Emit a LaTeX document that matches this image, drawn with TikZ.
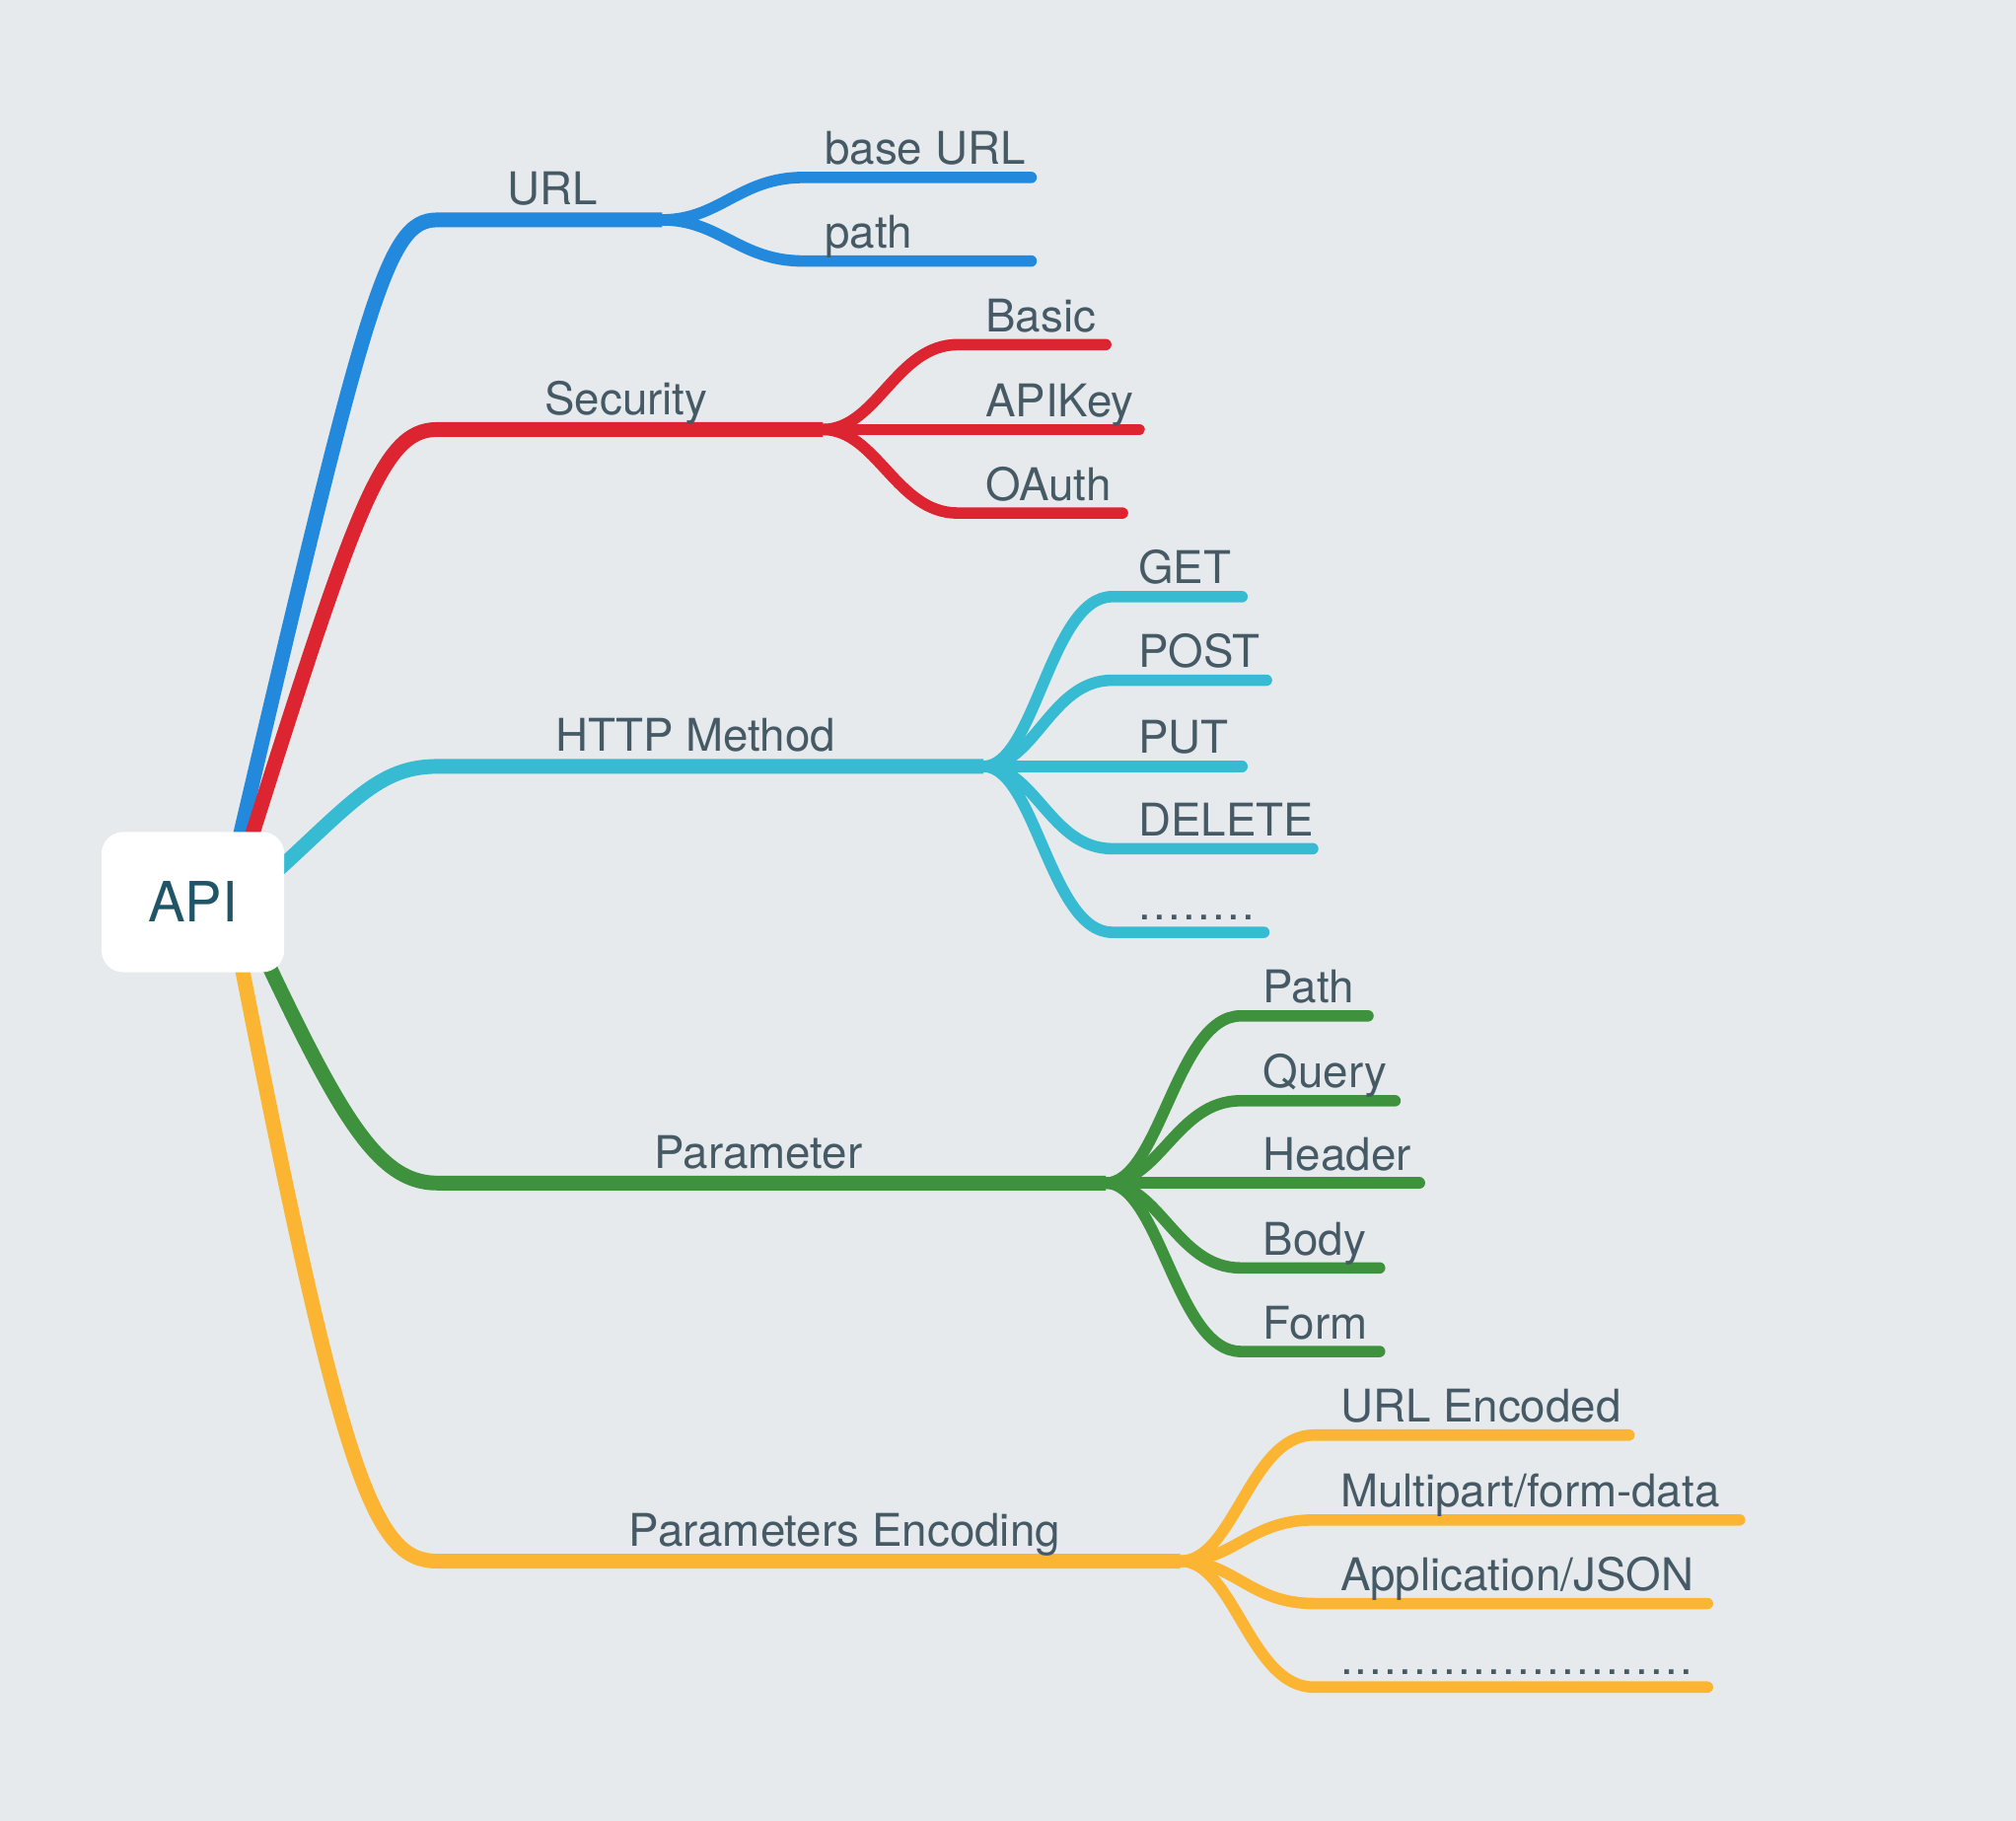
\documentclass[tikz,border=0pt]{standalone}
\usepackage{fontspec}
\setmainfont{TeX Gyre Heros}

\definecolor{paper}{HTML}{E6EAED}
\definecolor{urlblue}{HTML}{2389DC}
\definecolor{secred}{HTML}{DC2530}
\definecolor{httpcyan}{HTML}{36BBD3}
\definecolor{pargreen}{HTML}{3E923D}
\definecolor{encyellow}{HTML}{FBB532}
\definecolor{labelgrey}{HTML}{465A66}
\definecolor{apiteal}{HTML}{205568}

\newcommand\dotrow[1]{\foreach \k in {1,...,#1}{.\kern0.65pt}}

\tikzset{
  trunk/.style = {line width=4.25pt, line cap=butt},
  twig/.style  = {line width=3.3pt, line cap=round},
  toplbl/.style = {anchor=base, inner sep=0pt, text=labelgrey,
                   font=\fontsize{13}{15}\selectfont},
  leaflbl/.style = {anchor=base west, inner sep=0pt, text=labelgrey,
                    font=\fontsize{13}{15}\selectfont},
  rootbox/.style = {fill=white, rounded corners=0.22cm, inner sep=0pt,
                    minimum width=1.851cm, minimum height=1.421cm,
                    text=apiteal, font=\fontsize{16}{18}\selectfont}
}

\begin{document}
\begin{tikzpicture}[x=0.013036cm, y=-0.013036cm]
	\useasboundingbox (0,0) rectangle (1568,1416);
	\fill[paper] (0,0) rectangle (1568,1416);

	% Trunks (start inside the API box)
	\coordinate (url-s) at (175,700);
	\coordinate (sec-s) at (180,700);
	\coordinate (http-s) at (190,700);
	\coordinate (par-s) at (185,700);
	\coordinate (enc-s) at (178,700);

	\coordinate (url-c) at (340,171);   \coordinate (url-f) at (515,171);
	\coordinate (sec-c) at (340,334);   \coordinate (sec-f) at (640,334);
	\coordinate (http-c) at (340,596);  \coordinate (http-f) at (765,596);
	\coordinate (par-c) at (340,920);   \coordinate (par-f) at (860,920);
	\coordinate (enc-c) at (340,1214);  \coordinate (enc-f) at (918,1214);

	\draw[trunk, urlblue]   (url-s) .. controls (285,230) and (300,171) .. (url-c) -- (url-f);
	\draw[trunk, secred]    (sec-s) .. controls (275,400) and (295,334) .. (sec-c) -- (sec-f);
	\draw[trunk, httpcyan]  (http-s) .. controls (270,630) and (290,596) .. (http-c) -- (http-f);
	\draw[trunk, pargreen]  (par-s) .. controls (260,860) and (290,920) .. (par-c) -- (par-f);
	\draw[trunk, encyellow] (enc-s) .. controls (265,1150) and (290,1214) .. (enc-c) -- (enc-f);

	\node[toplbl] (url-t) at (430,159.5) {URL};
	\node[toplbl] (sec-t) at (487,322.5) {Security};
	\node[toplbl] (http-t) at (541,584.5) {HTTP Method};
	\node[toplbl] (par-t) at (590,908.5) {Parameter};
	\node[toplbl] (enc-t) at (657,1202.5) {Parameters Encoding};

	% URL
	\foreach \cy/\cx/\txt [count=\i] in {138/802/base URL, 203/802/path}{
		\coordinate (url-a\i) at (625,\cy);
		\coordinate (url-b\i) at (\cx,\cy);
		\draw[twig, urlblue] (url-f) .. controls (560,171) and (575,\cy) .. (url-a\i) -- (url-b\i);
		\node[leaflbl] (url-l\i) at (641,\cy-10) {\txt};
	}

	% Security
	\foreach \cy/\cx/\txt [count=\i] in {268/860/Basic, 334/886/APIKey, 399/873/OAuth}{
		\coordinate (sec-a\i) at (745,\cy);
		\coordinate (sec-b\i) at (\cx,\cy);
		\draw[twig, secred] (sec-f) .. controls (682,334) and (697,\cy) .. (sec-a\i) -- (sec-b\i);
		\node[leaflbl] (sec-l\i) at (766,\cy-10) {\txt};
	}

	% HTTP Method
	\foreach \cy/\cx/\txt [count=\i] in {464/966/GET, 529/985/POST, 596/966/PUT,
	                                     660/1021/DELETE, 725/983/\dotrow{8}}{
		\coordinate (http-a\i) at (865,\cy);
		\coordinate (http-b\i) at (\cx,\cy);
		\draw[twig, httpcyan] (http-f) .. controls (805,596) and (817,\cy) .. (http-a\i) -- (http-b\i);
		\node[leaflbl] (http-l\i) at (885,\cy-10) {\txt};
	}

	% Parameter
	\foreach \cy/\cx/\txt [count=\i] in {790/1064/Path, 856/1085/Query, 920/1104/Header,
	                                     986/1073/Body, 1051/1073/Form}{
		\coordinate (par-a\i) at (965,\cy);
		\coordinate (par-b\i) at (\cx,\cy);
		\draw[twig, pargreen] (par-f) .. controls (902,920) and (915,\cy) .. (par-a\i) -- (par-b\i);
		\node[leaflbl] (par-l\i) at (982,\cy-10) {\txt};
	}

	% Parameters Encoding
	\foreach \cy/\cx/\txt [count=\i] in {1116/1267/URL Encoded, 1182/1353/{Multipart/form-data},
	                                     1247/1328/{Application/JSON}, 1312/1328/\dotrow{24}}{
		\coordinate (enc-a\i) at (1022,\cy);
		\coordinate (enc-b\i) at (\cx,\cy);
		\draw[twig, encyellow] (enc-f) .. controls (960,1214) and (972,\cy) .. (enc-a\i) -- (enc-b\i);
		\node[leaflbl] (enc-l\i) at (1042,\cy-10) {\txt};
	}

	% Root
	\node[rootbox] (api) at (150,701.5) {API};
\end{tikzpicture}
\end{document}
